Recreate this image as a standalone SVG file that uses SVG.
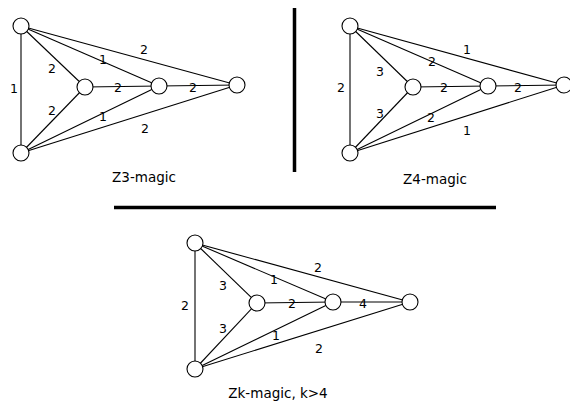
<svg xmlns="http://www.w3.org/2000/svg" width="570" height="403" viewBox="0 0 570 403">
<style>
.e{stroke:#000;stroke-width:1.1;fill:none}
.n{fill:#fff;stroke:#000;stroke-width:1.1}
.l{font-family:"DejaVu Sans","Liberation Sans",sans-serif;font-size:12.5px;fill:#000;text-anchor:middle}
.t{font-family:"DejaVu Sans","Liberation Sans",sans-serif;font-size:13.5px;fill:#000;text-anchor:middle}
.d{stroke:#000;stroke-width:3.5}
</style>
<rect width="570" height="403" fill="#fff"/>
<g id="dividers">
<line class="d" x1="294.5" y1="8" x2="294.5" y2="172"/>
<line class="d" x1="114" y1="207.5" x2="496" y2="207.5"/>
</g>
<g id="connectors">
<!-- graph 1 -->
<line class="e" x1="21" y1="26" x2="21" y2="153"/>
<line class="e" x1="21" y1="26" x2="85" y2="87"/>
<line class="e" x1="21" y1="153" x2="85" y2="87"/>
<line class="e" x1="21" y1="26" x2="159" y2="86"/>
<line class="e" x1="21" y1="153" x2="159" y2="86"/>
<line class="e" x1="21" y1="26" x2="237" y2="85"/>
<line class="e" x1="21" y1="153" x2="237" y2="85"/>
<line class="e" x1="85" y1="87" x2="159" y2="86"/>
<line class="e" x1="159" y1="86" x2="237" y2="85"/>
<!-- graph 2 -->
<line class="e" x1="350" y1="26" x2="350" y2="153"/>
<line class="e" x1="350" y1="26" x2="413" y2="87"/>
<line class="e" x1="350" y1="153" x2="413" y2="87"/>
<line class="e" x1="350" y1="26" x2="488" y2="86"/>
<line class="e" x1="350" y1="153" x2="488" y2="86"/>
<line class="e" x1="350" y1="26" x2="564" y2="85"/>
<line class="e" x1="350" y1="153" x2="564" y2="85"/>
<line class="e" x1="413" y1="87" x2="488" y2="86"/>
<line class="e" x1="488" y1="86" x2="564" y2="85"/>
<!-- graph 3 -->
<line class="e" x1="195" y1="243" x2="195" y2="369"/>
<line class="e" x1="195" y1="243" x2="257" y2="303"/>
<line class="e" x1="195" y1="369" x2="257" y2="303"/>
<line class="e" x1="195" y1="243" x2="333" y2="302"/>
<line class="e" x1="195" y1="369" x2="333" y2="302"/>
<line class="e" x1="195" y1="243" x2="410" y2="302"/>
<line class="e" x1="195" y1="369" x2="410" y2="302"/>
<line class="e" x1="257" y1="303" x2="333" y2="302"/>
<line class="e" x1="333" y1="302" x2="410" y2="302"/>
</g>
<g id="g1-tl"><circle class="n" cx="21" cy="26" r="8"/></g>
<g id="g1-bl"><circle class="n" cx="21" cy="153" r="8"/></g>
<g id="g1-m"><circle class="n" cx="85" cy="87" r="8"/></g>
<g id="g1-cr"><circle class="n" cx="159" cy="86" r="8"/></g>
<g id="g1-r"><circle class="n" cx="237" cy="85" r="8"/></g>
<g id="g2-tl"><circle class="n" cx="350" cy="26" r="8"/></g>
<g id="g2-bl"><circle class="n" cx="350" cy="153" r="8"/></g>
<g id="g2-m"><circle class="n" cx="413" cy="87" r="8"/></g>
<g id="g2-cr"><circle class="n" cx="488" cy="86" r="8"/></g>
<g id="g2-r"><circle class="n" cx="564" cy="85" r="8"/></g>
<g id="g3-tl"><circle class="n" cx="195" cy="243" r="8"/></g>
<g id="g3-bl"><circle class="n" cx="195" cy="369" r="8"/></g>
<g id="g3-m"><circle class="n" cx="257" cy="303" r="8"/></g>
<g id="g3-cr"><circle class="n" cx="333" cy="302" r="8"/></g>
<g id="g3-r"><circle class="n" cx="410" cy="302" r="8"/></g>
<g id="labels">
<text class="l" x="14" y="93">1</text>
<text class="l" x="52" y="73">2</text>
<text class="l" x="52" y="115">2</text>
<text class="l" x="103" y="64">1</text>
<text class="l" x="144" y="54">2</text>
<text class="l" x="118" y="92">2</text>
<text class="l" x="193" y="92">2</text>
<text class="l" x="103" y="121">1</text>
<text class="l" x="145" y="133">2</text>
<text class="t" x="144" y="182">Z3-magic</text>

<text class="l" x="341" y="92">2</text>
<text class="l" x="380" y="76">3</text>
<text class="l" x="380" y="118">3</text>
<text class="l" x="432" y="66">2</text>
<text class="l" x="467" y="54">1</text>
<text class="l" x="444" y="92">2</text>
<text class="l" x="518" y="92">2</text>
<text class="l" x="431" y="122">2</text>
<text class="l" x="467" y="135">1</text>
<text class="t" x="435" y="184">Z4-magic</text>

<text class="l" x="185" y="310">2</text>
<text class="l" x="223" y="290">3</text>
<text class="l" x="223" y="333">3</text>
<text class="l" x="274" y="284">1</text>
<text class="l" x="318" y="272">2</text>
<text class="l" x="292" y="308">2</text>
<text class="l" x="363" y="308">4</text>
<text class="l" x="276" y="340">1</text>
<text class="l" x="319" y="353">2</text>
<text class="t" x="278" y="398">Zk-magic, k&gt;4</text>
</g>
</svg>
